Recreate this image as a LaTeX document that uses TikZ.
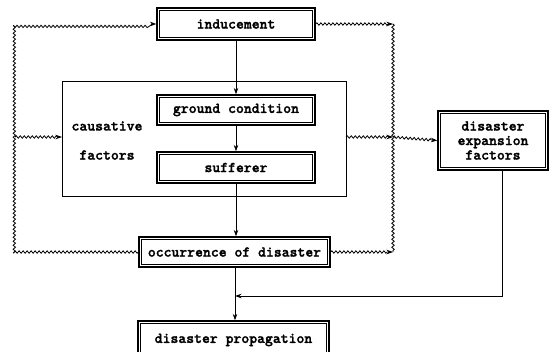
\documentclass[tikz,border=0pt]{standalone}
\usepackage{fontspec}
\newfontfamily\lab[FakeBold=1.6]{lmmonolt10-bold.otf}
\usetikzlibrary{arrows.meta,decorations.pathmorphing}
\begin{document}
\begin{tikzpicture}[x=1pt,y=-1pt,
  lbl/.style={font=\lab\fontsize{15}{14.5}\selectfont},
  dbox/.style={draw, line width=1.3pt, inner sep=0pt, lbl},
  inner/.style={draw, line width=0.6pt},
  txt/.style={lbl, inner sep=0pt},
  arr/.style={-{Stealth[length=6.5pt,width=4.5pt]}, line width=0.9pt},
  wavy/.style={line width=0.8pt, decorate, decoration={snake, amplitude=1.2pt, segment length=4pt, post length=4pt}},
  wavyarr/.style={wavy, -{Stealth[length=6.5pt,width=4.5pt]}}]
\useasboundingbox (0,0) rectangle (553,351);
\clip (0,0) rectangle (553,351);
% boxes
\node[dbox, minimum width=158pt, minimum height=32pt] (ind) at (236,24) {inducement};
\draw[line width=0.9pt] (62,81) rectangle (346,196);
\coordinate (causW) at (62,137);
\coordinate (causE) at (346,137);
\node[dbox, minimum width=158pt, minimum height=30pt] (gc) at (236,110) {ground condition};
\node[dbox, minimum width=158pt, minimum height=31pt] (suf) at (236,167.5) {sufferer};
\node[txt] (cf1) at (107,126) {causative};
\node[txt] (cf2) at (107,155) {factors};
\node[dbox, minimum width=191pt, minimum height=30pt] (occ) at (234.5,252) {occurrence of disaster};
\node[dbox, minimum width=191pt, minimum height=38pt] (prop) at (233.5,340) {disaster propagation};
\node[dbox, minimum width=110pt, minimum height=59pt, align=center] (exp) at (493,140.5) {disaster\\expansion\\factors};
\foreach \n in {ind,gc,suf,occ,prop,exp}
  \draw[inner] ([shift={(3.3pt,3.3pt)}]\n.south west) rectangle ([shift={(-3.3pt,-3.3pt)}]\n.north east);
% straight arrows
\coordinate (jx) at (235,296);
\draw[arr] (ind.south) -- (gc.north);
\draw[arr] (gc.south) -- (suf.north);
\draw[arr] (suf.south) -- (suf.south |- occ.north);
\draw[arr] (occ.south -| jx) -- (prop.north -| jx);
\coordinate (expB) at (502,296);
\draw[arr] (exp.south -| expB) -- (expB) -- (jx);
% wavy left
\coordinate (LB) at (15,252);
\coordinate (LT) at (15,24);
\coordinate (LM) at (15,137);
\draw[wavyarr] (occ.west) -- (LB) -- (LT) -- (ind.west);
\draw[wavyarr] (LM) -- (causW);
% wavy right
\coordinate (RT) at (393,24);
\coordinate (RM) at (393,137);
\coordinate (RB) at (393,252);
\draw[wavyarr] (ind.east) -- (RT);
\draw[wavyarr] (occ.east) -- (RB);
\draw[wavyarr] (causE) -- (RM);
\draw[wavy, decoration={post length=0pt}] (RT) -- (RB);
\draw[wavyarr] (RM) -- (exp.west);
\end{tikzpicture}
\end{document}
